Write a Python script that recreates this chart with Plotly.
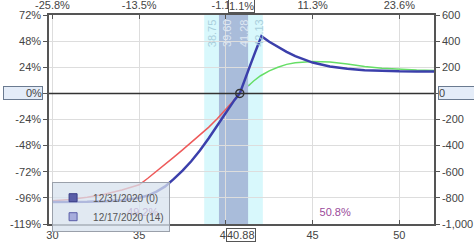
import plotly.graph_objects as go

# ---------------- data ----------------
exp_x = [30, 31, 32, 33, 34, 35, 35.5, 36, 36.5, 37, 37.5, 38, 38.5, 39, 39.5, 40, 40.5, 40.8, 41, 41.4, 41.7, 42.05,
         42.5, 43, 43.5, 44, 44.5, 45, 46, 47, 48, 49, 50, 51, 52]
exp_y = [-832, -832, -830, -826, -818, -800, -782, -752, -712, -655, -592, -520, -438, -345, -247, -145, -50, 0, 75, 214, 320, 437,
         395, 355, 318, 285, 258, 236, 206, 188, 177, 171, 169, 168, 168]

t14_red_x = [30, 31, 32, 33, 34, 35, 35.5, 36, 36.5, 37, 37.5, 38, 38.5, 39, 39.5, 40, 40.5, 40.65]
t14_red_y = [-822, -812, -795, -772, -740, -700, -650, -598, -545, -488, -432, -375, -318, -260, -195, -120, -48, -25]

t14_mid_x = [40.5, 40.8, 41.1, 41.4]
t14_mid_y = [-48, 0, 35, 70]

t14_green_x = [41.3, 41.6, 42, 42.5, 43, 43.5, 44, 44.5, 45, 45.5, 46, 47, 48, 49, 50, 51, 52]
t14_green_y = [58, 95, 135, 172, 200, 222, 235, 242, 244, 243, 240, 225, 205, 192, 183, 178, 175]

breakeven_x = [40.8]
breakeven_y = [0]

prob_x = [35.2, 46.3]
prob_y = [-916, -916]
prob_text = ["49.2%", "50.8%"]

outer_band = [38.75, 42.13]
inner_band = [39.60, 41.28]
band_labels = ["38.75", "39.60", "41.28", "42.13"]

current_price = 40.88
current_pct = "1.1%"

x_ticks = [30, 35, 40, 45, 50]
top_tick_text = ["-25.8%", "-13.5%", "-1.1%", "11.3%", "23.6%"]
y_ticks = [600, 400, 200, 0, -200, -400, -600, -800, -1000]
left_tick_text = ["72%", "48%", "24%", "", "-24%", "-48%", "-72%", "-96%", "-119%"]
right_tick_text = ["600", "400", "200", "", "-200", "-400", "-600", "-800", "-1,000"]

legend_names = ["12/31/2020 (0)", "12/17/2020 (14)"]

# ---------------- style ----------------
FONT = "Liberation Sans, Arial, sans-serif"
TXT = "#444444"
BLUE = "#3b3fab"
RED = "#ee5a5a"
GREEN = "#66de66"
LIGHTBLUE = "#a9b0e6"

fig = go.Figure()

fig.add_trace(go.Scatter(x=t14_red_x, y=t14_red_y, mode="lines", line=dict(color=RED, width=1.5),
                         showlegend=False, hoverinfo="skip"))
fig.add_trace(go.Scatter(x=t14_mid_x, y=t14_mid_y, mode="lines", line=dict(color=LIGHTBLUE, width=1.5),
                         showlegend=False, hoverinfo="skip"))
fig.add_trace(go.Scatter(x=t14_green_x, y=t14_green_y, mode="lines", line=dict(color=GREEN, width=1.5),
                         showlegend=False, hoverinfo="skip"))
fig.add_trace(go.Scatter(x=exp_x, y=exp_y, mode="lines", line=dict(color=BLUE, width=2.5),
                         showlegend=False, hoverinfo="skip"))
fig.add_trace(go.Scatter(x=breakeven_x, y=breakeven_y, mode="markers",
                         marker=dict(symbol="circle-open", size=8, color="#333333", line=dict(width=1.5)),
                         showlegend=False, hoverinfo="skip"))
fig.add_trace(go.Scatter(x=prob_x, y=prob_y, mode="text", text=prob_text,
                         textfont=dict(family=FONT, size=11, color="#9a4a9a"),
                         showlegend=False, hoverinfo="skip"))

# legend entries (square swatches)
fig.add_trace(go.Scatter(x=[None], y=[None], mode="markers", name=legend_names[0],
                         marker=dict(symbol="square", size=8, color="#5a5ea8", line=dict(color="#3a3e88", width=1))))
fig.add_trace(go.Scatter(x=[None], y=[None], mode="markers", name=legend_names[1],
                         marker=dict(symbol="square", size=8, color="#a6acdc", line=dict(color="#5a5ea8", width=1))))

# secondary axes carriers
fig.add_trace(go.Scatter(x=[x_ticks[0]], y=[0], xaxis="x2", yaxis="y2", mode="markers",
                         marker=dict(opacity=0), showlegend=False, hoverinfo="skip"))

shapes = [
    dict(type="rect", xref="x", yref="paper", x0=outer_band[0], x1=outer_band[1], y0=0, y1=1,
         fillcolor="#d8f8fc", line=dict(width=0), layer="below"),
    dict(type="rect", xref="x", yref="paper", x0=inner_band[0], x1=inner_band[1], y0=0, y1=1,
         fillcolor="#a9bcda", line=dict(width=0), layer="below"),
    dict(type="line", xref="paper", yref="y", x0=0, x1=1, y0=0, y1=0,
         line=dict(color="#333333", width=1.5)),
]

annotations = []
label_pos = [outer_band[0], inner_band[0], inner_band[1], outer_band[1]]
label_shift = [8, 8, -4, -4]
label_col = ["#a9cfdc", "#dfe8f3", "#dfe8f3", "#a9cfdc"]
for lab, px, sh, c in zip(band_labels, label_pos, label_shift, label_col):
    annotations.append(dict(x=px, y=1, xref="x", yref="paper", text=lab, showarrow=False,
                            textangle=-90, xanchor="center", yanchor="top", xshift=sh, yshift=-2,
                            font=dict(family=FONT, size=11, color=c)))

annotations += [
    dict(x=0, y=0, xref="paper", yref="y", text="0%", showarrow=False, xanchor="right", yanchor="middle",
         xshift=-6, width=38, align="right", bgcolor="#e4ecf8", bordercolor="#6a7a90", borderwidth=1,
         borderpad=0, font=dict(family=FONT, size=11, color=TXT)),
    dict(x=1, y=0, xref="paper", yref="y", text="0", showarrow=False, xanchor="left", yanchor="middle",
         xshift=4, width=40, align="left", bgcolor="#e4ecf8", bordercolor="#6a7a90", borderwidth=1,
         borderpad=0, font=dict(family=FONT, size=11, color=TXT)),
    dict(x=current_price, y=1, xref="x", yref="paper", text=current_pct, showarrow=False,
         xanchor="center", yanchor="bottom", yshift=2, bgcolor="#ffffff", bordercolor="#555555",
         borderwidth=1, borderpad=0, font=dict(family=FONT, size=11, color=TXT)),
    dict(x=current_price, y=0, xref="x", yref="paper", text=f"{current_price:.2f}", showarrow=False,
         xanchor="center", yanchor="top", yshift=-4, bgcolor="#ffffff", bordercolor="#555555",
         borderwidth=1, borderpad=0, font=dict(family=FONT, size=11, color=TXT)),
]

axis_common = dict(showline=True, linecolor="#555555", linewidth=1.5, ticklen=4,
                   tickcolor="#555555", tickfont=dict(family=FONT, size=11, color=TXT), zeroline=False,
                   automargin=False)

fig.update_layout(
    width=474, height=243,
    margin=dict(l=49, r=40, t=15, b=19, autoexpand=False),
    paper_bgcolor="white", plot_bgcolor="white",
    showlegend=True,
    legend=dict(x=0.008, y=0.2, xanchor="left", yanchor="top",
                bgcolor="rgba(215,225,238,0.75)", bordercolor="#9aa0aa", borderwidth=1,
                font=dict(family=FONT, size=10, color="#555555"), tracegroupgap=0,
                itemwidth=30),
    xaxis=dict(range=[29.8, 52], tickvals=x_ticks, showgrid=True, gridcolor="#dddddd", gridwidth=1,
               ticks="inside", **axis_common),
    xaxis2=dict(range=[29.8, 52], overlaying="x", side="top", tickvals=x_ticks, ticktext=top_tick_text,
                showgrid=False, ticks="inside", **axis_common),
    yaxis=dict(range=[-1000, 600], tickvals=y_ticks, ticktext=left_tick_text, showgrid=True,
               gridcolor="#dddddd", gridwidth=1, ticks="outside", **axis_common),
    yaxis2=dict(range=[-1000, 600], overlaying="y", side="right", tickvals=y_ticks, ticktext=right_tick_text,
                showgrid=False, ticks="outside", **axis_common),
    shapes=shapes,
    annotations=annotations,
    hovermode=False,
)

fig.write_html("out.html")
